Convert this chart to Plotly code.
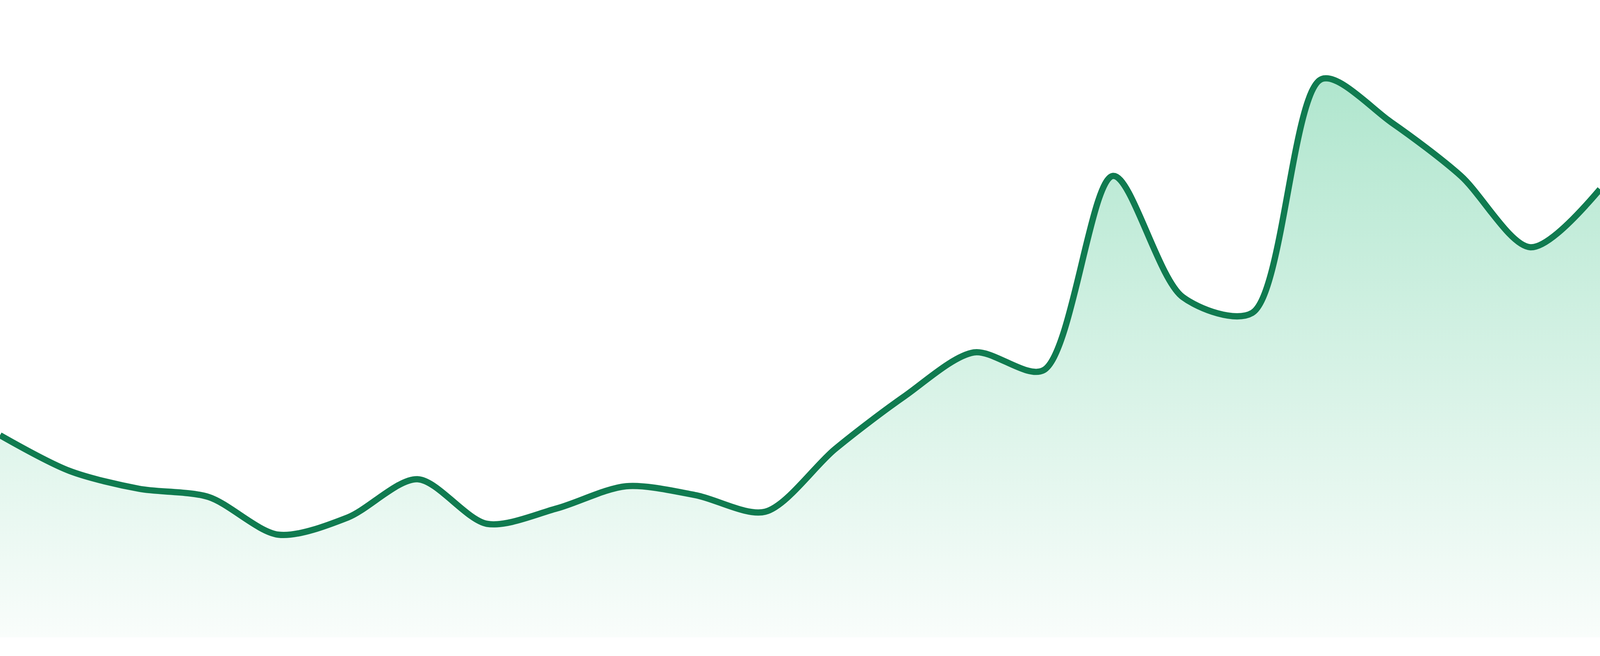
import plotly.graph_objects as go

# ---- data ----
points = list(range(24))
values = [31.7, 26.1, 23.3, 22.0, 16.1, 18.8, 24.8, 17.8, 20.2, 23.7, 22.3, 19.7,
          29.5, 37.8, 44.7, 41.9, 72.4, 53.4, 50.9, 87.6, 80.8, 72.4, 61.2, 70.3]

LINE_COLOR = "#107b50"
FILL_TOP = "#b0e6ce"
FILL_BOTTOM = "#f9fdfb"

fig = go.Figure()
fig.add_trace(go.Scatter(
    x=points,
    y=values,
    mode="lines",
    line=dict(color=LINE_COLOR, width=16, shape="spline", smoothing=0.85),
    fill="tozeroy",
    fillgradient=dict(type="vertical",
                      colorscale=[[0, FILL_BOTTOM], [1, FILL_TOP]]),
    hoverinfo="skip",
    showlegend=False,
))

fig.update_layout(
    autosize=True,
    margin=dict(l=0, r=0, t=0, b=0, pad=0),
    paper_bgcolor="white",
    plot_bgcolor="white",
    xaxis=dict(range=[0, 23], visible=False, showgrid=False, zeroline=False, fixedrange=True),
    yaxis=dict(range=[0, 100], domain=[48 / 1680, 1], visible=False,
               showgrid=False, zeroline=False, fixedrange=True),
    showlegend=False,
)

fig.write_html("out.html", config={"displayModeBar": False, "responsive": True},
               default_width="100%", default_height="100%")

# full-window page with no default margins
with open("out.html", "r", encoding="utf-8") as f:
    html = f.read()
html = html.replace(
    "<head>",
    "<head><style>html,body{margin:0;padding:0;width:100%;height:100%;overflow:hidden;}"
    "body>div{width:100%;height:100%;}</style>",
    1,
)
with open("out.html", "w", encoding="utf-8") as f:
    f.write(html)
